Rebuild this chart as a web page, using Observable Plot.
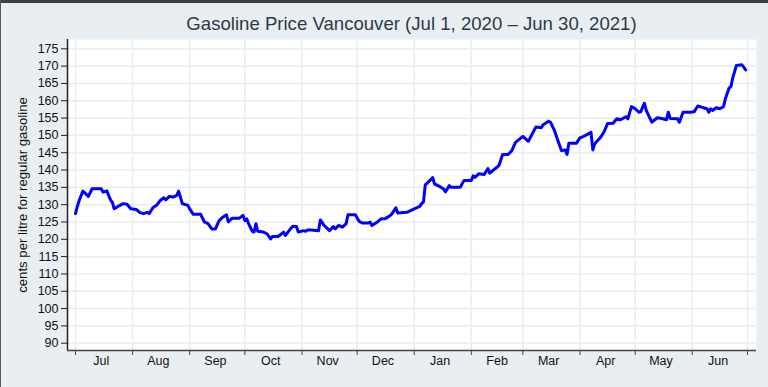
<!DOCTYPE html>
<html>
<head>
<meta charset="utf-8">
<script src="https://cdn.jsdelivr.net/npm/d3@7"></script>
<script src="https://cdn.jsdelivr.net/npm/@observablehq/plot@0.6"></script>
<style>
  html, body { margin: 0; padding: 0; }
  body { width: 768px; height: 387px; overflow: hidden; background: #e8eef1; font-family: "Liberation Sans", Arial, sans-serif; }
  #wrap { position: relative; width: 768px; height: 387px; }
  #title { position: absolute; left: 67px; width: 689px; top: 14px; line-height: 20px; font-size: 18.6px; color: #2c3a48; text-align: center; white-space: nowrap; }
  #topband { position: absolute; left: 0; top: 0; width: 768px; height: 3px; background: #3c3f42; }
  #leftband { position: absolute; left: 0; top: 0; width: 1px; height: 387px; background: #55595d; }
  #chart { position: absolute; left: 0; top: 0; }
</style>
</head>
<body>
<div id="wrap">
  <div id="chart"></div>
  <div id="title">Gasoline Price Vancouver (Jul 1, 2020 – Jun 30, 2021)</div>
  <div id="topband"></div>
  <div id="leftband"></div>
</div>
<script>
const dates = [
"2020-07-01","2020-07-02","2020-07-03","2020-07-05","2020-07-08","2020-07-10","2020-07-15","2020-07-16","2020-07-18","2020-07-20","2020-07-21","2020-07-22","2020-07-24","2020-07-27","2020-07-29","2020-07-31",
"2020-08-03","2020-08-05","2020-08-07","2020-08-09","2020-08-10","2020-08-12","2020-08-14","2020-08-16","2020-08-18","2020-08-19","2020-08-21","2020-08-23","2020-08-25","2020-08-26","2020-08-27","2020-08-28","2020-08-31",
"2020-09-01","2020-09-03","2020-09-07","2020-09-09","2020-09-11","2020-09-13","2020-09-15","2020-09-17","2020-09-19","2020-09-21","2020-09-22","2020-09-24","2020-09-28","2020-09-30",
"2020-10-01","2020-10-02","2020-10-03","2020-10-05","2020-10-06","2020-10-07","2020-10-08","2020-10-11","2020-10-13","2020-10-15","2020-10-16","2020-10-19","2020-10-21","2020-10-22","2020-10-23","2020-10-25","2020-10-27","2020-10-29","2020-10-30",
"2020-11-02","2020-11-03","2020-11-04","2020-11-06","2020-11-10","2020-11-11","2020-11-13","2020-11-16","2020-11-18","2020-11-19","2020-11-21","2020-11-23","2020-11-25","2020-11-26","2020-11-30",
"2020-12-02","2020-12-04","2020-12-07","2020-12-08","2020-12-09","2020-12-12","2020-12-14","2020-12-16","2020-12-19","2020-12-20","2020-12-22","2020-12-23","2020-12-28",
"2021-01-01","2021-01-04","2021-01-05","2021-01-06","2021-01-07","2021-01-08","2021-01-11","2021-01-12","2021-01-15","2021-01-17","2021-01-18","2021-01-20","2021-01-21","2021-01-26","2021-01-28",
"2021-02-01","2021-02-02","2021-02-03","2021-02-05","2021-02-08","2021-02-10","2021-02-11","2021-02-16","2021-02-18","2021-02-21","2021-02-23","2021-02-25",
"2021-03-01","2021-03-04","2021-03-08","2021-03-11","2021-03-12","2021-03-15","2021-03-16","2021-03-18","2021-03-20","2021-03-22","2021-03-24","2021-03-25","2021-03-26","2021-03-30",
"2021-04-01","2021-04-03","2021-04-06","2021-04-07","2021-04-08","2021-04-09","2021-04-12","2021-04-14","2021-04-16","2021-04-19","2021-04-21","2021-04-23","2021-04-26","2021-04-27","2021-04-29",
"2021-05-01","2021-05-03","2021-05-04","2021-05-06","2021-05-07","2021-05-10","2021-05-13","2021-05-16","2021-05-18","2021-05-19","2021-05-20","2021-05-24","2021-05-25","2021-05-27","2021-05-31",
"2021-06-02","2021-06-04","2021-06-07","2021-06-09","2021-06-10","2021-06-11","2021-06-12","2021-06-14","2021-06-16","2021-06-18","2021-06-19","2021-06-21","2021-06-22","2021-06-23","2021-06-25","2021-06-28","2021-06-30"
];
const prices = [
127.4,129.5,131.2,133.9,132.4,134.6,134.6,133.6,134.0,131.4,130.7,128.8,129.5,130.3,130.1,128.8,
128.6,127.7,127.4,127.8,127.4,129.1,129.8,131.2,132.0,131.4,132.4,132.2,132.7,133.9,132.2,130.3,129.8,
128.8,127.2,127.2,125.0,124.5,123.0,123.0,125.4,126.4,127.1,125.0,126.1,126.1,126.9,
125.4,125.9,124.5,122.3,122.1,124.5,122.3,122.1,121.6,120.1,120.8,120.8,121.6,122.1,121.1,122.5,123.8,123.7,122.1,
122.5,122.3,122.7,122.7,122.5,125.6,124.0,122.5,123.7,123.0,124.0,123.5,124.5,127.1,127.1,
125.2,124.7,124.7,125.0,124.0,125.0,125.9,125.9,126.9,127.4,129.1,127.6,127.8,
128.8,129.5,130.3,130.8,135.8,136.2,137.8,136.0,135.2,134.5,133.7,135.5,135.0,135.0,137.0,
137.0,138.3,137.9,138.9,138.7,140.4,139.1,141.3,144.5,144.5,145.6,148.0,
149.7,148.3,152.4,152.2,153.1,154.1,153.8,151.6,148.5,145.6,145.8,144.5,147.7,147.7,
149.3,149.7,150.6,150.9,145.8,147.6,149.3,150.9,153.4,153.5,154.8,154.5,155.4,154.8,158.3,
157.7,156.7,156.8,159.3,157.2,153.8,155.1,154.8,154.5,156.7,154.9,154.8,153.8,156.7,156.7,
156.8,158.5,158.0,157.7,156.7,157.7,157.2,158.0,157.7,158.3,160.6,163.7,164.1,166.6,170.2,170.4,168.9
];
const monthStarts = ["2020-07-01","2020-08-01","2020-09-01","2020-10-01","2020-11-01","2020-12-01","2021-01-01","2021-02-01","2021-03-01","2021-04-01","2021-05-01","2021-06-01","2021-07-01"];
const monthLabelDates = ["2020-07-15","2020-08-15","2020-09-15","2020-10-15","2020-11-15","2020-12-15","2021-01-15","2021-02-15","2021-03-15","2021-04-15","2021-05-15","2021-06-15"];
const monthNames = ["Jul","Aug","Sep","Oct","Nov","Dec","Jan","Feb","Mar","Apr","May","Jun"];
const yTicks = [90,95,100,105,110,115,120,125,130,135,140,145,150,155,160,165,170,175];
const yLabel = "cents per litre for regular gasoline";

const parse = s => new Date(s + "T00:00:00Z");
const data = dates.map((d, i) => ({date: parse(d), price: prices[i]}));
const DAY = 86400000;
const x0 = parse("2020-07-01").getTime() - 4.35 * DAY;
const x1 = parse("2020-07-01").getTime() + 369.9 * DAY;
const y0 = 87.89, y1 = 177.69;
const starts = monthStarts.map(parse);
const labelDates = monthLabelDates.map(parse);
const nameOf = new Map(labelDates.map((d, i) => [+d, monthNames[i]]));

const chart = Plot.plot({
  width: 768,
  height: 387,
  marginTop: 39,
  marginBottom: 37,
  marginLeft: 67,
  marginRight: 12,
  style: {background: "transparent", fontFamily: "'Liberation Sans', Arial, sans-serif", fontSize: "12.5px", color: "#111"},
  x: {type: "utc", domain: [new Date(x0), new Date(x1)]},
  y: {domain: [y0, y1]},
  marks: [
    Plot.frame({fill: "white", stroke: "none"}),
    Plot.gridY(yTicks, {stroke: "#e8eef1", strokeOpacity: 1, strokeWidth: 1.6}),
    Plot.gridX(starts, {stroke: "#e8eef1", strokeOpacity: 1, strokeWidth: 1.6}),
    Plot.line(data, {x: "date", y: "price", stroke: "#0000ff", strokeWidth: 3, strokeLinejoin: "round"}),
    Plot.ruleX([new Date(x0)], {stroke: "#222", strokeWidth: 1.5}),
    Plot.ruleY([y0], {stroke: "#444", strokeWidth: 1.5}),
    Plot.axisY(yTicks, {tickSize: 6, tickPadding: 3, label: null, stroke: "#222", tickFormat: d => String(d)}),
    Plot.axisX(starts, {tickSize: 5, text: null, label: null, stroke: "#444"}),
    Plot.axisX(labelDates, {tickSize: 0, tickPadding: 6, label: null, tickFormat: d => nameOf.get(+d)}),
    Plot.text([yLabel], {frameAnchor: "left", dx: -45, rotate: -90, textAnchor: "middle", fontSize: 13.2, fill: "#111"})
  ]
});
document.getElementById("chart").appendChild(chart);
</script>
</body>
</html>
